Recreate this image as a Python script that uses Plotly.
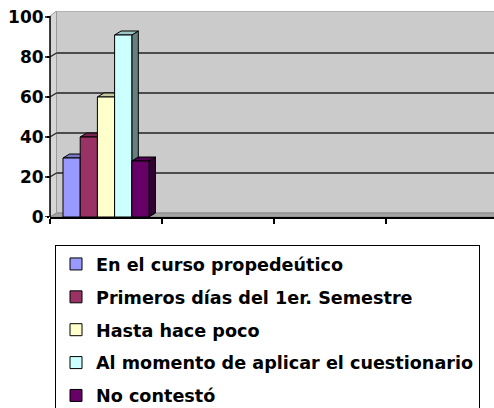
import plotly.graph_objects as go

series_names = [
    "En el curso propedeútico",
    "Primeros días del 1er. Semestre",
    "Hasta hace poco",
    "Al momento de aplicar el cuestionario",
    "No contestó",
]
values = [29.5, 40, 60, 91, 28]
colors = ["#9999FF", "#993366", "#FFFFCC", "#CCFFFF", "#660066"]
y_ticks = [0, 20, 40, 60, 80, 100]

W, H = 494, 408
ML, MR, MT, MB = 50, 0, 11, 191
cat_px = 112.0
plot_w = W - ML - MR
x_min = -0.5
x_max = x_min + plot_w / cat_px
y_max = 103
px_per_unit = (H - MT - MB) / y_max

dx = 6.5 / cat_px        # depth offset in x units
dy = 4.0 / px_per_unit   # depth offset in y units

group_left = -0.5 + 13 / cat_px
bar_w = 86 / 5 / cat_px


def shade(hexc, f):
    hexc = hexc.lstrip("#")
    r, g, b = (int(hexc[i:i + 2], 16) for i in (0, 2, 4))
    return "rgb(%d,%d,%d)" % (r * f, g * f, b * f)


fig = go.Figure()
shapes = []
# side wall
shapes.append(dict(type="path", xref="x", yref="y", layer="below",
                   path=f"M{x_min},0 L{x_min+dx},{dy} L{x_min+dx},{y_max} L{x_min},{100.5} Z",
                   fillcolor="#D6D6D6", line=dict(color="#9A9A9A", width=1)))
# back wall
shapes.append(dict(type="rect", xref="x", yref="y", layer="below",
                   x0=x_min + dx, x1=x_max + 1, y0=dy, y1=y_max,
                   fillcolor="#CBCBCB", line=dict(color="#9A9A9A", width=1)))
# gridlines
for t in y_ticks[1:-1]:
    shapes.append(dict(type="line", xref="x", yref="y", layer="below",
                       x0=x_min + dx, x1=x_max + 1, y0=t + dy, y1=t + dy,
                       line=dict(color="#222222", width=1.5)))
    shapes.append(dict(type="line", xref="x", yref="y", layer="below",
                       x0=x_min, x1=x_min + dx, y0=t, y1=t + dy,
                       line=dict(color="#222222", width=1.2)))
# floor
shapes.append(dict(type="path", xref="x", yref="y", layer="below",
                   path=f"M{x_min},0 L{x_max+1},0 L{x_max+1+dx},{dy} L{x_min+dx},{dy} Z",
                   fillcolor="#A3A3A3", line=dict(color="#8A8A8A", width=1)))

for i, (name, v, c) in enumerate(zip(series_names, values, colors)):
    x0 = group_left + i * bar_w
    x1 = x0 + bar_w
    shapes.append(dict(type="path", xref="x", yref="y", layer="below",
                       path=f"M{x1},0 L{x1+dx},{dy} L{x1+dx},{v+dy} L{x1},{v} Z",
                       fillcolor=shade(c, 0.5), line=dict(color="black", width=1)))
    shapes.append(dict(type="path", xref="x", yref="y", layer="below",
                       path=f"M{x0},{v} L{x1},{v} L{x1+dx},{v+dy} L{x0+dx},{v+dy} Z",
                       fillcolor=shade(c, 0.78), line=dict(color="black", width=1)))
    fig.add_trace(go.Bar(
        x=[0], y=[v], width=[bar_w], offset=[group_left + i * bar_w],
        name=name, legendgroup=f"g{i}",
        marker=dict(color=c, line=dict(color="black", width=1)),
    ))

# y axis line (front) and its tick marks
shapes.append(dict(type="line", xref="paper", yref="y", x0=0, x1=0, y0=0, y1=100.5,
                   line=dict(color="black", width=1.5)))
for t in y_ticks:
    shapes.append(dict(type="line", xref="paper", yref="y", x0=-5 / plot_w, x1=0,
                       y0=t, y1=t, line=dict(color="black", width=1.5)))

fig.update_layout(
    width=W, height=H,
    margin=dict(l=ML, r=MR, t=MT, b=MB, autoexpand=False),
    paper_bgcolor="white", plot_bgcolor="white",
    barmode="overlay",
    shapes=shapes,
    showlegend=True,
    legend=dict(
        x=(55 - ML) / plot_w, y=-(245 - (H - MB)) / (H - MT - MB),
        xanchor="left", yanchor="top",
        bgcolor="white", bordercolor="black", borderwidth=1,
        font=dict(family="DejaVu Sans", size=17.6, color="black", weight="bold"),
        tracegroupgap=7, traceorder="grouped",
    ),
    xaxis=dict(range=[x_min, x_max], showgrid=False, zeroline=False,
               showline=True, linecolor="black", linewidth=1.5,
               ticks="outside", ticklen=5, tickcolor="black", tickwidth=1.5,
               tick0=-0.5, dtick=1, showticklabels=False, fixedrange=True),
    yaxis=dict(range=[0, y_max], showgrid=False, zeroline=False, showline=False,
               tickmode="array", tickvals=y_ticks, ticktext=[str(t) for t in y_ticks],
               ticks="outside", ticklen=2, tickcolor="black", tickwidth=1.5,
               tickfont=dict(family="DejaVu Sans", size=17, color="black", weight="bold"),
               fixedrange=True),
)

fig.write_html("out.html", config={"displayModeBar": False, "staticPlot": True},
               post_script="document.body.style.margin='0px';")
